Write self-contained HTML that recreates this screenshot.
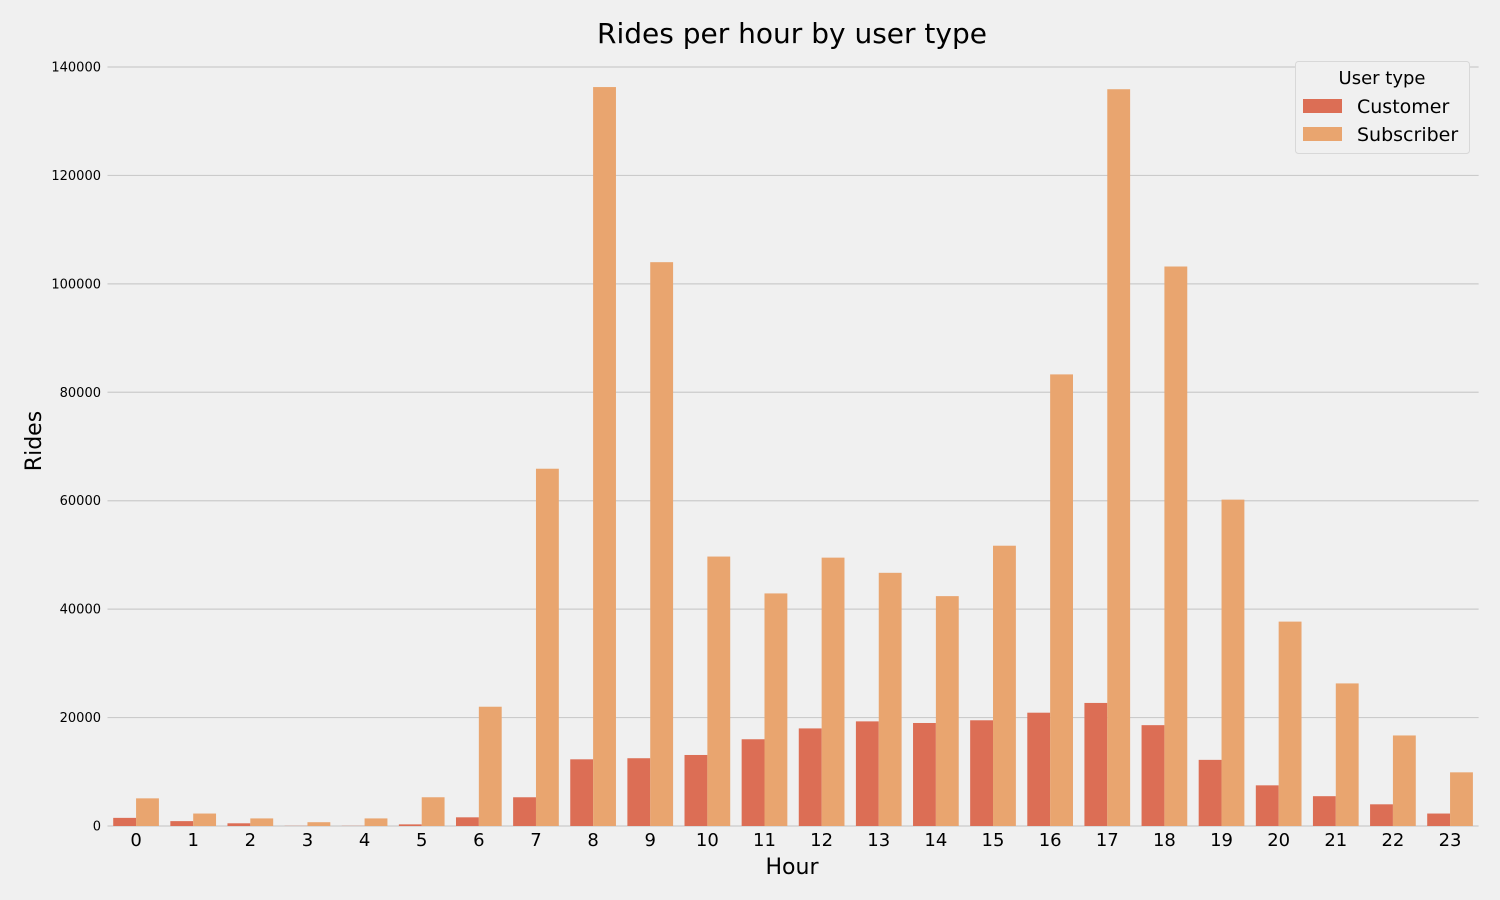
<!DOCTYPE html>
<html><head><meta charset="utf-8"><style>
html,body{margin:0;padding:0;background:#f0f0f0;}
svg{display:block;font-family:"DejaVu Sans","Liberation Sans",sans-serif;}
</style></head><body>
<svg id="chart" width="1500" height="900">
<rect width="1500" height="900" fill="#f0f0f0"/>
<g id="grid"></g>
<g id="bars"></g>
<g id="xticks"></g>
<g id="yticks"></g>
<text x="792" y="43" font-size="28" text-anchor="middle" fill="#000">Rides per hour by user type</text>
<text x="792" y="874" font-size="22" text-anchor="middle" fill="#000">Hour</text>
<text x="41" y="441" font-size="22" text-anchor="middle" fill="#000" transform="rotate(-90 41 441)">Rides</text>
<g>
<rect x="1295.5" y="61.5" width="174" height="92" rx="3" fill="#f0f0f0" stroke="#d8d8d8"/>
<text x="1382" y="84" font-size="18" text-anchor="middle">User type</text>
<rect x="1303" y="99" width="39" height="14" fill="#dc6e55"/>
<text x="1357" y="113" font-size="19">Customer</text>
<rect x="1303" y="127" width="39" height="14" fill="#e9a56f"/>
<text x="1357" y="141" font-size="19">Subscriber</text>
</g>
</svg>
<script>
const hours = ["0","1","2","3","4","5","6","7","8","9","10","11","12","13","14","15","16","17","18","19","20","21","22","23"];
const customer = [1500,900,500,30,30,300,1600,5300,12300,12500,13100,16000,18000,19300,19000,19500,20900,22700,18600,12200,7500,5500,4000,2300];
const subscriber = [5100,2300,1400,700,1400,5300,22000,65900,136300,104000,49700,42900,49500,46700,42400,51700,83300,135900,103200,60200,37700,26300,16700,9900];
const yTicks = [0,20000,40000,60000,80000,100000,120000,140000];

const NS="http://www.w3.org/2000/svg";
const x0=107.5, step=57.13, y0=826, yTop=67, yMax=140000;
function xc(i){return x0+step*(i+0.5);}
function ys(v){return y0-(v/yMax)*(y0-yTop);}
function mk(tag,attrs,parent){const e=document.createElementNS(NS,tag);for(const k in attrs)e.setAttribute(k,attrs[k]);parent.appendChild(e);return e;}
const grid=document.getElementById('grid'),bars=document.getElementById('bars'),xt=document.getElementById('xticks'),yt=document.getElementById('yticks');
yTicks.forEach(v=>{
  const l=mk('line',{x1:x0,x2:x0+step*hours.length,y1:ys(v),y2:ys(v),stroke:'#cbcbcb','stroke-width':1.2},grid);
  
  
  const t=mk('text',{x:101,y:ys(v)+4.5,'font-size':13,'text-anchor':'end',fill:'#000'},yt);
  t.textContent=String(v);
  
  
});
const bw=step*0.4;
hours.forEach((h,i)=>{
  const c=xc(i);
  const b1=mk('rect',{x:c-bw,y:ys(customer[i]),width:bw,height:y0-ys(customer[i]),fill:'#dc6e55'},bars);
  
  
  const b2=mk('rect',{x:c,y:ys(subscriber[i]),width:bw,height:y0-ys(subscriber[i]),fill:'#e9a56f'},bars);
  
  
  const t=mk('text',{x:c,y:846,'font-size':18,'text-anchor':'middle',fill:'#000'},xt);
  t.textContent=h;
  
  
});
</script>
</body></html>
